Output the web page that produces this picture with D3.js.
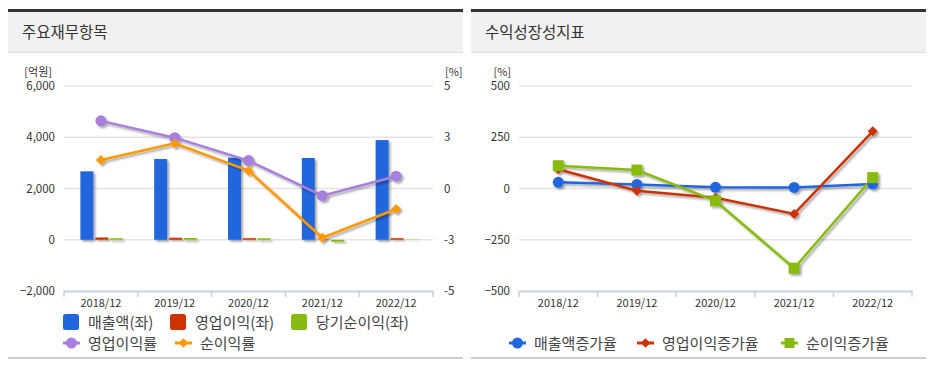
<!DOCTYPE html>
<html><head><meta charset="utf-8">
<script src="https://cdn.jsdelivr.net/npm/d3@7"></script>
<style>
body{margin:0;background:#fff;font-family:"Noto Sans CJK KR","Noto Sans",sans-serif;}
svg text{font-family:"Noto Sans CJK KR","Noto Sans",sans-serif;}
</style></head>
<body>
<svg id="c" width="933" height="367"></svg>
<script>
const categories = ["2018/12","2019/12","2020/12","2021/12","2022/12"];
// left panel (억원)
const sales = [2670, 3150, 3200, 3190, 3890];
const opProfit = [88, 78, 43, -11, 23];
const netProfit = [37, 69, 28, -77, -10];
// left panel (%)
const opMargin = [3.3, 2.48, 1.36, -0.35, 0.6];
const netMargin = [1.39, 2.2, 0.87, -2.4, -1.0];
const leftTicks = [-2000, 0, 2000, 4000, 6000];
const rightTicks = [-5, -2.5, 0, 2.5, 5];
const rightTickLabels = ["-5", "-3", "0", "3", "5"];
// right panel (%)
const salesGrowth = [30, 20, 6, 5, 22];
const opGrowth = [94, -11, -45, -124, 279];
const netGrowth = [111, 90, -60, -389, 53];
const growthTicks = [-500, -250, 0, 250, 500];

const C = {blue:"#2266dd", red:"#cc3300", green:"#88bb11", purple:"#a77fdd", orange:"#ff9900"};
const svg = d3.select("#c");

const defs = svg.append("defs");
const f = defs.append("filter").attr("id","sh").attr("x","-20%").attr("y","-20%").attr("width","160%").attr("height","160%");
f.append("feGaussianBlur").attr("in","SourceAlpha").attr("stdDeviation",1.2).attr("result","b");
f.append("feOffset").attr("in","b").attr("dx",1.5).attr("dy",1.5).attr("result","o");
f.append("feComponentTransfer").attr("in","o").attr("result","o2").append("feFuncA").attr("type","linear").attr("slope",0.35);
const m = f.append("feMerge"); m.append("feMergeNode").attr("in","o2"); m.append("feMergeNode").attr("in","SourceGraphic");

function panel(x0, x1, title){
  svg.append("rect").attr("x",x0).attr("y",12).attr("width",x1-x0).attr("height",40).attr("fill","#f1f1f1");
  svg.append("rect").attr("x",x0).attr("y",9).attr("width",x1-x0).attr("height",3).attr("fill","#333");
  svg.append("rect").attr("x",x0).attr("y",52).attr("width",x1-x0).attr("height",1).attr("fill","#ddd");
  svg.append("rect").attr("x",x0).attr("y",357).attr("width",x1-x0).attr("height",2).attr("fill","#ccc");
  svg.append("text").attr("x",x0+14).attr("y",38).attr("font-size",15.5).attr("fill","#333").text(title);
}
panel(8, 463, "주요재무항목");
panel(471, 926, "수익성장성지표");

function axisText(g){ g.selectAll("text").attr("fill","#333").attr("font-size",11.5); }

// ---------- left chart ----------
{
  const x = d3.scaleBand().domain(categories).range([64, 433]);
  const yL = d3.scaleLinear().domain([-2000, 6000]).range([291, 86]);
  const yR = d3.scaleLinear().domain([-5, 5]).range([291, 86]);
  const g = svg.append("g");
  g.selectAll("line.grid").data(leftTicks.slice(1)).join("line")
    .attr("x1",64).attr("x2",433).attr("y1",d=>yL(d)).attr("y2",d=>yL(d))
    .attr("stroke","#e3e3e3").attr("stroke-width",1.5);
  const ax = g.append("g").attr("transform","translate(64,0)")
    .call(d3.axisLeft(yL).tickValues(leftTicks).tickSize(0).tickPadding(9).tickFormat(d3.format(",")));
  ax.select(".domain").remove(); axisText(ax);
  const ar = g.append("g").attr("transform","translate(433,0)")
    .call(d3.axisRight(yR).tickValues(rightTicks).tickSize(0).tickPadding(11).tickFormat((d,i)=>rightTickLabels[i]));
  ar.select(".domain").remove(); axisText(ar);
  const xa = g.append("g").attr("transform","translate(0,291)")
    .call(d3.axisBottom(x).tickSize(0).tickPadding(8));
  xa.select(".domain").attr("stroke","#c6d0e0").attr("stroke-width",2);
  axisText(xa); xa.selectAll("text").attr("font-size",11);
  g.selectAll("line.xt").data(d3.range(categories.length+1)).join("line")
    .attr("x1",i=>64+i*x.step()).attr("x2",i=>64+i*x.step()).attr("y1",291).attr("y2",297)
    .attr("stroke","#c6d0e0").attr("stroke-width",1.5);
  g.append("text").attr("x",52).attr("y",76).attr("text-anchor","end").attr("font-size",11).attr("fill","#333").text("[억원]");
  g.append("text").attr("x",445).attr("y",76).attr("font-size",11).attr("fill","#333").text("[%]");

  const bw = 13, off = [-20.5, -5.5, 9];
  const h = d => { const a = Math.abs(yL(d)-yL(0)); return Math.abs(d) >= 20 ? Math.max(a,1.5) : a; };
  [[sales,C.blue],[opProfit,C.red],[netProfit,C.green]].forEach(([arr,col],k)=>{
    g.append("g").attr("filter","url(#sh)").selectAll("rect").data(arr).join("rect")
      .attr("x",(d,i)=>x(categories[i])+x.bandwidth()/2+off[k])
      .attr("width",bw)
      .attr("y",d=> d>=0 ? yL(0)-h(d) : yL(0))
      .attr("height",d=>h(d))
      .attr("fill",col);
  });
  const cx = i=>x(categories[i])+x.bandwidth()/2;
  const line = d3.line().x((d,i)=>cx(i)).y(d=>yR(d));
  const lg = g.append("g").attr("filter","url(#sh)");
  lg.append("path").datum(opMargin).attr("d",line).attr("fill","none").attr("stroke",C.purple).attr("stroke-width",2.5);
  lg.append("path").datum(netMargin).attr("d",line).attr("fill","none").attr("stroke",C.orange).attr("stroke-width",2.5);
  lg.selectAll("circle").data(opMargin).join("circle").attr("cx",(d,i)=>cx(i)).attr("cy",d=>yR(d)).attr("r",5.5).attr("fill",C.purple);
  lg.selectAll("path.dm").data(netMargin).join("path").attr("class","dm")
    .attr("d",d3.symbol(d3.symbolSquare,50)())
    .attr("transform",(d,i)=>`translate(${cx(i)},${yR(d)}) rotate(45)`).attr("fill",C.orange);

  // legend
  const L = svg.append("g");
  const sq = [["매출액(좌)",C.blue,63],["영업이익(좌)",C.red,170],["당기순이익(좌)",C.green,291]];
  sq.forEach(([t,c,x0])=>{
    L.append("rect").attr("x",x0).attr("y",314).attr("width",16).attr("height",16).attr("rx",2.5).attr("fill",c);
    L.append("text").attr("x",x0+25).attr("y",327.5).attr("font-size",15).attr("fill","#444").text(t);
  });
  L.append("line").attr("x1",63).attr("x2",80).attr("y1",343).attr("y2",343).attr("stroke",C.purple).attr("stroke-width",3);
  L.append("circle").attr("cx",71.5).attr("cy",343).attr("r",5.5).attr("fill",C.purple);
  L.append("text").attr("x",88).attr("y",348.5).attr("font-size",15).attr("fill","#444").text("영업이익률");
  L.append("line").attr("x1",175).attr("x2",192).attr("y1",343).attr("y2",343).attr("stroke",C.orange).attr("stroke-width",3);
  L.append("path").attr("d",d3.symbol(d3.symbolSquare,45)()).attr("transform","translate(183.5,343) rotate(45)").attr("fill",C.orange);
  L.append("text").attr("x",200).attr("y",348.5).attr("font-size",15).attr("fill","#444").text("순이익률");
}

// ---------- right chart ----------
{
  const x = d3.scaleBand().domain(categories).range([519, 912]);
  const y = d3.scaleLinear().domain([-500, 500]).range([291, 86]);
  const g = svg.append("g");
  g.selectAll("line.grid").data(growthTicks.slice(1)).join("line")
    .attr("x1",519).attr("x2",912).attr("y1",d=>y(d)).attr("y2",d=>y(d))
    .attr("stroke","#e3e3e3").attr("stroke-width",1.5);
  const ax = g.append("g").attr("transform","translate(519,0)")
    .call(d3.axisLeft(y).tickValues(growthTicks).tickSize(0).tickPadding(9));
  ax.select(".domain").remove(); axisText(ax);
  const xa = g.append("g").attr("transform","translate(0,291)")
    .call(d3.axisBottom(x).tickSize(0).tickPadding(8));
  xa.select(".domain").attr("stroke","#c6d0e0").attr("stroke-width",2);
  axisText(xa); xa.selectAll("text").attr("font-size",11);
  g.selectAll("line.xt").data(d3.range(categories.length+1)).join("line")
    .attr("x1",i=>519+i*x.step()).attr("x2",i=>519+i*x.step()).attr("y1",291).attr("y2",297)
    .attr("stroke","#c6d0e0").attr("stroke-width",1.5);
  g.append("text").attr("x",511).attr("y",76).attr("text-anchor","end").attr("font-size",11).attr("fill","#333").text("[%]");

  const cx = i=>x(categories[i])+x.bandwidth()/2;
  const line = d3.line().x((d,i)=>cx(i)).y(d=>y(d));
  const lg = g.append("g").attr("filter","url(#sh)");
  lg.append("path").datum(salesGrowth).attr("d",line).attr("fill","none").attr("stroke",C.blue).attr("stroke-width",2.5);
  lg.append("path").datum(opGrowth).attr("d",line).attr("fill","none").attr("stroke",C.red).attr("stroke-width",2.5);
  lg.append("path").datum(netGrowth).attr("d",line).attr("fill","none").attr("stroke",C.green).attr("stroke-width",2.5);
  lg.selectAll("circle").data(salesGrowth).join("circle").attr("cx",(d,i)=>cx(i)).attr("cy",d=>y(d)).attr("r",5.5).attr("fill",C.blue);
  lg.selectAll("path.dm").data(opGrowth).join("path").attr("class","dm")
    .attr("d",d3.symbol(d3.symbolSquare,50)())
    .attr("transform",(d,i)=>`translate(${cx(i)},${y(d)}) rotate(45)`).attr("fill",C.red);
  lg.selectAll("rect.sq").data(netGrowth).join("rect").attr("class","sq")
    .attr("x",(d,i)=>cx(i)-5.5).attr("y",d=>y(d)-5.5).attr("width",11).attr("height",11).attr("fill",C.green);

  const L = svg.append("g");
  const items = [["매출액증가율",C.blue,509,"c"],["영업이익증가율",C.red,637,"d"],["순이익증가율",C.green,781,"s"]];
  items.forEach(([t,c,x0,s])=>{
    L.append("line").attr("x1",x0).attr("x2",x0+17).attr("y1",343).attr("y2",343).attr("stroke",c).attr("stroke-width",3);
    if(s==="c") L.append("circle").attr("cx",x0+8.5).attr("cy",343).attr("r",5.5).attr("fill",c);
    if(s==="d") L.append("path").attr("d",d3.symbol(d3.symbolSquare,45)()).attr("transform",`translate(${x0+8.5},343) rotate(45)`).attr("fill",c);
    if(s==="s") L.append("rect").attr("x",x0+3.5).attr("y",338).attr("width",10).attr("height",10).attr("fill",c);
    L.append("text").attr("x",x0+25).attr("y",348.5).attr("font-size",15).attr("fill","#444").text(t);
  });
}
</script>
</body></html>
